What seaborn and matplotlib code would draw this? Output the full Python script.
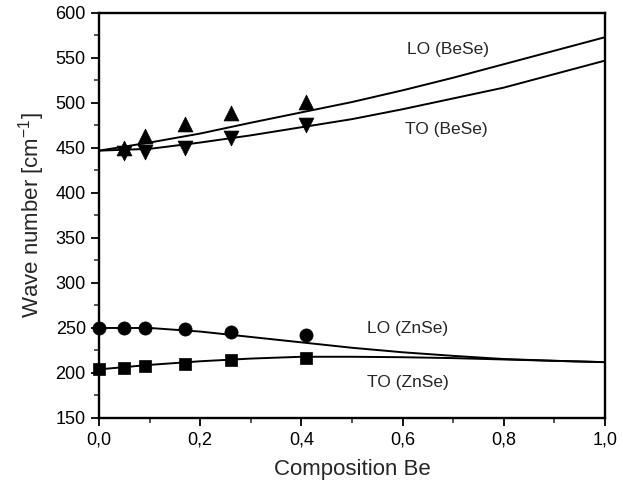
import matplotlib
matplotlib.use("Agg")
import matplotlib.pyplot as plt
import seaborn as sns
from matplotlib.ticker import MultipleLocator, FuncFormatter

# measured phonon frequencies (symbols)
x_bese = [0.05, 0.09, 0.17, 0.26, 0.41]
lo_bese = [450, 463, 477, 489, 501]
to_bese = [444, 446, 450, 461, 475]

x_znse = [0.0, 0.05, 0.09, 0.17, 0.26, 0.41]
lo_znse = [250, 250.5, 250, 248.5, 246, 242]
to_znse = [204, 206, 208, 210.5, 214.5, 217]

# calculated curves (solid lines), read at 0.1 steps
x_calc = [0.0, 0.1, 0.2, 0.3, 0.4, 0.5, 0.6, 0.7, 0.8, 0.9, 1.0]
lo_bese_calc = [447, 456, 466, 478, 489.5, 501, 514, 528, 543, 558, 573]
to_bese_calc = [447, 449, 456, 464, 473, 482, 493, 505, 517, 532, 547]
lo_znse_calc = [250, 250, 246, 240, 234, 228, 223, 219, 215.5, 213.5, 212]
to_znse_calc = [204, 209, 213, 216, 218, 218, 217.5, 216.5, 215, 213.5, 212]

sns.set_style("ticks")
plt.rcParams["font.family"] = ["Liberation Sans", "DejaVu Sans"]
plt.rcParams["mathtext.fontset"] = "custom"
plt.rcParams["mathtext.rm"] = "Liberation Sans"
plt.rcParams["mathtext.it"] = "Liberation Sans"

fig = plt.figure(figsize=(6.23, 4.97), dpi=100)
ax = fig.add_axes([0.159, 0.159, 0.812, 0.815])

for ys in [lo_bese_calc, to_bese_calc, lo_znse_calc, to_znse_calc]:
    sns.lineplot(x=x_calc, y=ys, ax=ax, color="black", linewidth=1.4)

pts = [
    (x_bese, lo_bese, "^", 115),
    (x_bese, to_bese, "v", 115),
    (x_znse, lo_znse, "o", 90),
    (x_znse, to_znse, "s", 72),
]
for xs, ys, m, s in pts:
    sns.scatterplot(x=xs, y=ys, ax=ax, marker=m, s=s, color="black",
                    edgecolor="black", linewidth=0.5, clip_on=False, zorder=5)

ax.set_xlim(0, 1.0)
ax.set_ylim(150, 600)
ax.xaxis.set_major_locator(MultipleLocator(0.2))
ax.xaxis.set_minor_locator(MultipleLocator(0.1))
ax.yaxis.set_major_locator(MultipleLocator(50))
ax.yaxis.set_minor_locator(MultipleLocator(25))
ax.xaxis.set_major_formatter(FuncFormatter(lambda v, p: f"{v:.1f}".replace(".", ",")))
ax.tick_params(which="major", direction="out", length=6, width=1.3, labelsize=13, colors="black")
ax.tick_params(which="minor", direction="out", length=3.5, width=1.1)

for sp in ax.spines.values():
    sp.set_linewidth(1.7)
    sp.set_color("black")

ax.set_xlabel("Composition Be", fontsize=16, labelpad=8)
ax.set_ylabel("Wave number [cm$^{-1}$]", fontsize=16, labelpad=6)

ax.text(0.69, 559, "LO (BeSe)", fontsize=12.5, ha="center", va="center")
ax.text(0.687, 470, "TO (BeSe)", fontsize=12.5, ha="center", va="center")
ax.text(0.61, 249, "LO (ZnSe)", fontsize=12.5, ha="center", va="center")
ax.text(0.61, 189, "TO (ZnSe)", fontsize=12.5, ha="center", va="center")

fig.savefig("out.png", dpi=100)
